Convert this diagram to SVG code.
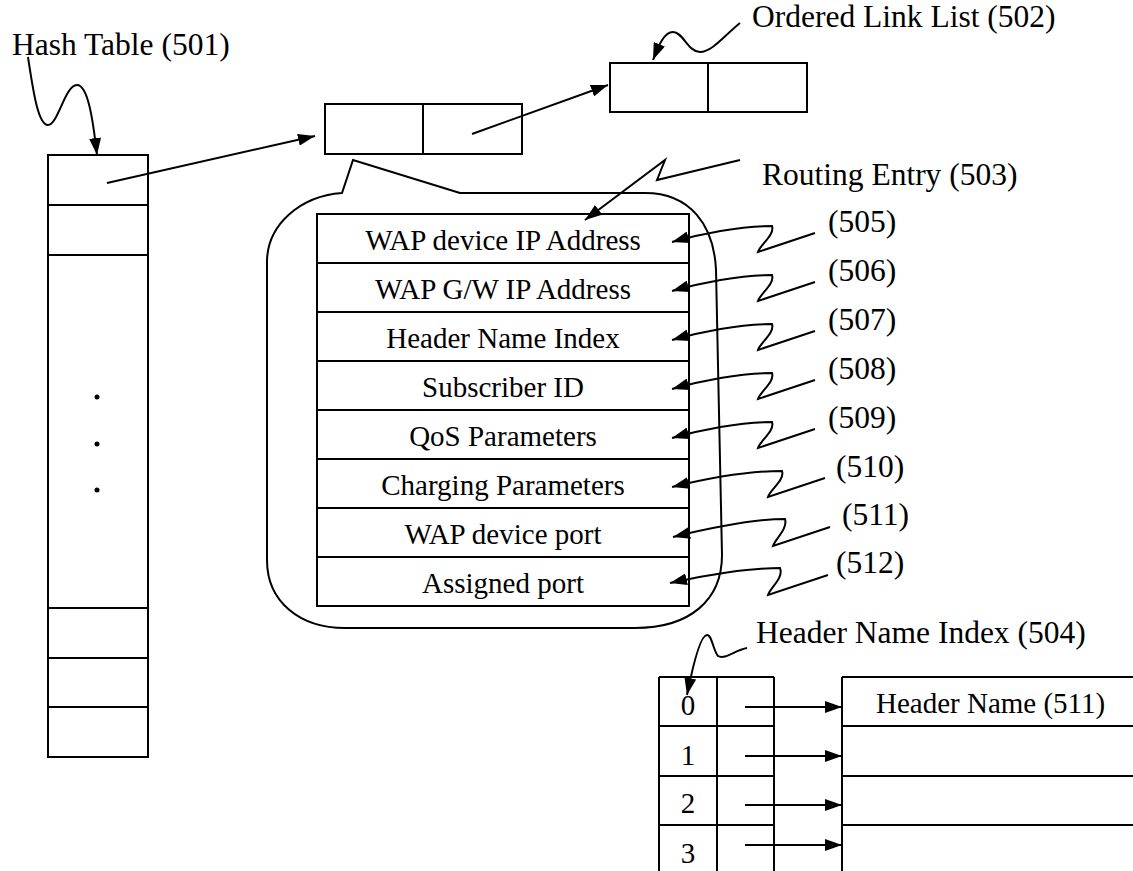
<svg xmlns="http://www.w3.org/2000/svg" width="1133" height="871" viewBox="0 0 1133 871">
<style>
.s{fill:none;stroke:#000;stroke-width:2}
.t{font-family:"Liberation Serif","Times New Roman",serif;fill:#000}
.lb{font-size:31.5px}
.en{font-size:29px;text-anchor:middle}
.w{fill:#fff;stroke:#000;stroke-width:2}
</style>
<defs>
<marker id="ah" markerUnits="userSpaceOnUse" markerWidth="18" markerHeight="12" refX="17" refY="6" orient="auto">
<path d="M0,0 L17,6 L0,12 z" fill="#000"/>
</marker>
</defs>
<rect width="1133" height="871" fill="#fff"/>

<g id="hash-table">
<rect class="w" x="48" y="155" width="100" height="602"/>
<path class="s" d="M48,205 H148 M48,255 H148 M48,608 H148 M48,658 H148 M48,707 H148"/>
<circle cx="97" cy="397" r="2.5"/>
<circle cx="97" cy="444" r="2.5"/>
<circle cx="97" cy="490" r="2.5"/>
<text class="t lb" x="12" y="55">Hash Table (501)</text>
</g>

<g id="link-node-1">
<rect class="w" x="325" y="104" width="197" height="50"/>
<path class="s" d="M423,104 V154"/>
</g>

<g id="link-node-2">
<rect class="w" x="610" y="63" width="197" height="49"/>
<path class="s" d="M708,63 V112"/>
<text class="t lb" x="752" y="27">Ordered Link List (502)</text>
</g>

<g id="routing-entry">
<path class="s" d="M460,193 L353,160 L342,193 C300,196 267,225 267,262 L267,560 C267,602 300,628 345,628 L635,628 C690,628 722,600 722,555 L716,270 C714,225 690,193 645,193 Z" fill="#fff"/>
<rect class="w" x="317" y="214" width="372" height="392"/>
<path class="s" d="M317,263 H689 M317,312 H689 M317,361 H689 M317,410 H689 M317,459 H689 M317,508 H689 M317,557 H689"/>
<text class="t en" x="503" y="250">WAP device IP Address</text>
<text class="t en" x="503" y="299">WAP G/W IP Address</text>
<text class="t en" x="503" y="348">Header Name Index</text>
<text class="t en" x="503" y="397">Subscriber ID</text>
<text class="t en" x="503" y="446">QoS Parameters</text>
<text class="t en" x="503" y="495">Charging Parameters</text>
<text class="t en" x="503" y="544">WAP device port</text>
<text class="t en" x="503" y="593">Assigned port</text>
<text class="t lb" x="762" y="185">Routing Entry (503)</text>
<text class="t lb" x="828" y="232">(505)</text>
<text class="t lb" x="828" y="281">(506)</text>
<text class="t lb" x="828" y="330">(507)</text>
<text class="t lb" x="828" y="379">(508)</text>
<text class="t lb" x="828" y="428">(509)</text>
<text class="t lb" x="836" y="477">(510)</text>
<text class="t lb" x="842" y="525">(511)</text>
<text class="t lb" x="836" y="573">(512)</text>
</g>

<g id="header-name-index">
<path class="s" d="M659,677 V871 M717,677 V871 M774,677 V871 M659,677 H774 M659,726 H774 M659,776 H774 M659,825 H774"/>
<text class="t en" x="688" y="715">0</text>
<text class="t en" x="688" y="765">1</text>
<text class="t en" x="688" y="813">2</text>
<text class="t en" x="688" y="863">3</text>
<text class="t lb" x="756" y="643">Header Name Index (504)</text>
</g>

<g id="header-names">
<path class="s" d="M842,677 V871 M842,677 H1133 M842,726 H1133 M842,776 H1133 M842,825 H1133"/>
<text class="t" x="876" y="713" font-size="29">Header Name (511)</text>
</g>

<g id="connectors" class="s">
<path d="M28,57 C33,90 38,125 48,125 C58,125 65,85 77,85 C88,85 93,120 97,155" marker-end="url(#ah)"/>
<path d="M107,183 L315,136" marker-end="url(#ah)"/>
<path d="M472,134 L608,85" marker-end="url(#ah)"/>
<path d="M740,23 C725,35 712,52 700,52 C688,52 683,32 673,32 C663,32 657,50 653,60" marker-end="url(#ah)"/>
<path d="M740,160 L657,180 L665,160 L585,220" marker-end="url(#ah)"/>
<path d="M815,233 L758,252 C760,245 775,235 772,226 C740,226 700,234 672,242" marker-end="url(#ah)"/>
<path d="M815,282 L758,301 C760,294 775,284 772,275 C740,275 700,283 672,291" marker-end="url(#ah)"/>
<path d="M815,331 L758,350 C760,343 775,333 772,324 C740,324 700,332 672,340" marker-end="url(#ah)"/>
<path d="M815,380 L758,399 C760,392 775,382 772,373 C740,373 700,381 672,389" marker-end="url(#ah)"/>
<path d="M815,429 L758,448 C760,441 775,431 772,422 C740,422 700,430 672,438" marker-end="url(#ah)"/>
<path d="M825,478 L768,497 C770,490 785,480 782,471 C750,471 705,479 672,487" marker-end="url(#ah)"/>
<path d="M830,527 L773,546 C775,539 788,529 785,519 C755,519 710,528 673,537" marker-end="url(#ah)"/>
<path d="M828,575 L768,595 C770,588 784,578 780,568 C750,568 705,575 670,583" marker-end="url(#ah)"/>
<path d="M747,648 C735,650 725,660 718,656 C713,650 712,635 707,635 C700,635 692,670 687,695" marker-end="url(#ah)"/>
<path d="M745,707 L842,707" marker-end="url(#ah)"/>
<path d="M745,756 L842,756" marker-end="url(#ah)"/>
<path d="M745,805 L842,805" marker-end="url(#ah)"/>
<path d="M745,845 L842,845" marker-end="url(#ah)"/>
</g>
</svg>
